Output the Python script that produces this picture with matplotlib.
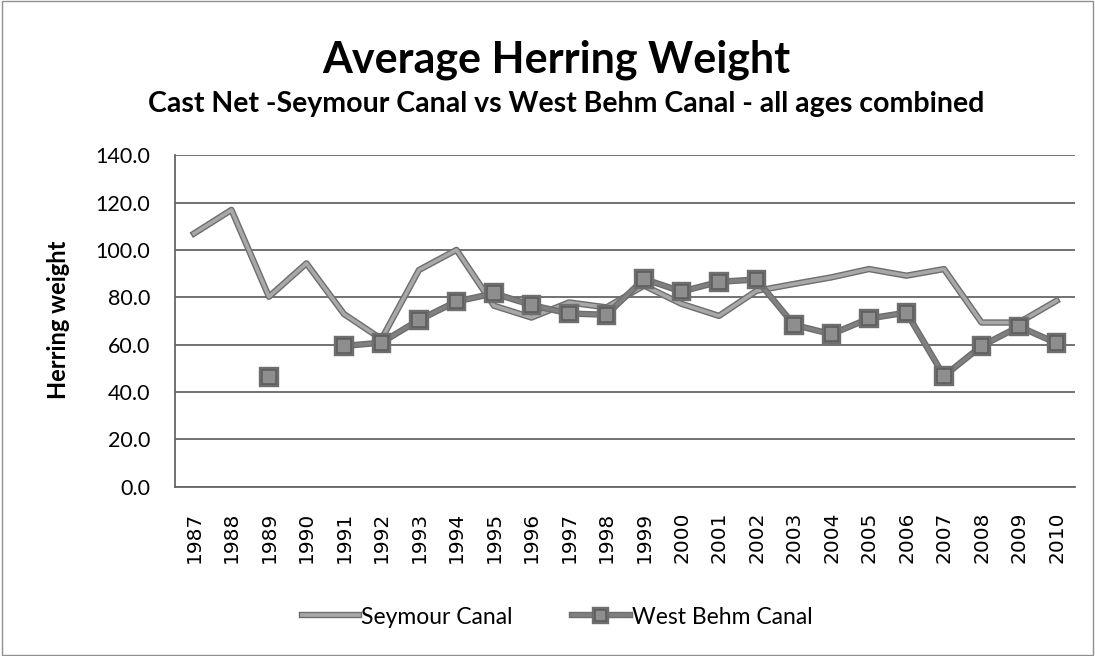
import numpy as np
import matplotlib
matplotlib.use("Agg")
import matplotlib.pyplot as plt
import matplotlib.patheffects as pe

# ── Data ───────────────────────────────────────────────────────────────────────
years = list(range(1987, 2011))
seymour = [107.0, 117.0, 80.3, 94.4, 73.0, 62.4, 91.6, 100.1, 76.5, 71.5, 77.9, 75.8,
           85.0, 77.3, 72.2, 82.8, 85.7, 88.5, 92.0, 89.2, 92.0, 69.4, 69.4, 78.6]
west_behm = [np.nan, np.nan, 46.5, np.nan, 59.5, 60.9, 70.5, 78.3, 81.7, 76.8, 73.2, 72.7,
             87.8, 82.5, 86.6, 87.6, 68.4, 64.5, 71.1, 73.6, 46.8, 59.5, 67.7, 60.7]
yticks = [0, 20, 40, 60, 80, 100, 120, 140]

plt.rcParams["font.family"] = ["Lato", "DejaVu Sans"]

fig = plt.figure(figsize=(10.95, 6.56), dpi=100)
ax = fig.add_axes([0.16, 0.258, 0.822, 0.505])

x = np.arange(len(years))
edge = [pe.Stroke(linewidth=4.6, foreground="#6e6e6e"), pe.Normal()]
ax.plot(x, seymour, color="#a8a8a8", lw=2.6, label="Seymour Canal", zorder=3,
        path_effects=edge)
ax.plot(x, west_behm, color="#808080", lw=2.6, marker="s", ms=10,
        mfc="#8e8e8e", mec="#5e5e5e", mew=1.2, label="West Behm Canal", zorder=4,
        path_effects=edge)

ax.set_xlim(-0.5, len(years) - 0.5)
ax.set_ylim(0, 140)
ax.set_yticks(yticks)
ax.set_yticklabels([f"{v:.1f}" for v in yticks], fontsize=15.5)
ax.set_xticks(x)
ax.set_xticklabels([str(y) for y in years], rotation=90, fontsize=14.5,
                   family="DejaVu Sans")
ax.yaxis.grid(True, color="#666666", lw=1.3)
ax.set_axisbelow(True)
for s in ["top", "right"]:
    ax.spines[s].set_visible(False)
ax.spines["left"].set_color("#666666")
ax.spines["bottom"].set_color("#666666")
ax.spines["left"].set_linewidth(1.3)
ax.spines["bottom"].set_linewidth(1.3)
ax.tick_params(axis="y", length=0, pad=18)
ax.tick_params(axis="x", length=0, pad=18)

fig.text(59 / 1095, 1 - 320 / 656, "Herring weight", rotation=90, ha="center",
         va="center", fontsize=17, fontweight="bold")
fig.text(556 / 1095, 1 - 60 / 656, "Average Herring Weight", ha="center", va="center",
         fontsize=31, fontweight="bold")
fig.text(566 / 1095, 1 - 104 / 656, "Cast Net -Seymour Canal vs West Behm Canal - all ages combined",
         ha="center", va="center", fontsize=20.5, fontweight="bold")

leg = fig.legend(loc="center", bbox_to_anchor=(557 / 1095, 1 - 617 / 656), ncol=2,
                 frameon=False, fontsize=16.5, handlelength=2.5, columnspacing=2.6,
                 handletextpad=0.1, markerscale=0.8)

# figure border
fig.patches.append(plt.Rectangle((0.002, 0.002), 0.996, 0.996, transform=fig.transFigure,
                                 fill=False, ec="#909090", lw=1))

plt.savefig("out.png", dpi=100)
